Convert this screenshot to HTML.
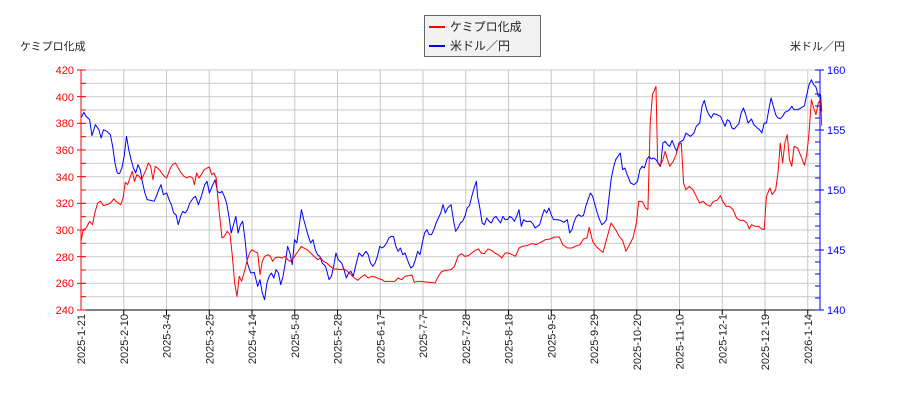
<!DOCTYPE html>
<html><head><meta charset="utf-8"><style>
html,body{margin:0;padding:0;background:#fff;overflow:hidden;}
svg{display:block;font-family:"Liberation Sans","Noto Sans CJK JP",sans-serif;}
</style></head><body>
<svg width="900" height="400" viewBox="0 0 900 400" xmlns="http://www.w3.org/2000/svg">
<rect width="900" height="400" fill="#fff"/>
<g stroke="#c8c8c8" stroke-width="1">
<line x1="81" y1="83.3" x2="820" y2="83.3"/><line x1="81" y1="96.7" x2="820" y2="96.7"/>
<line x1="81" y1="110" x2="820" y2="110"/><line x1="81" y1="123.3" x2="820" y2="123.3"/>
<line x1="81" y1="136.7" x2="820" y2="136.7"/><line x1="81" y1="150" x2="820" y2="150"/>
<line x1="81" y1="163.3" x2="820" y2="163.3"/><line x1="81" y1="176.7" x2="820" y2="176.7"/>
<line x1="81" y1="190" x2="820" y2="190"/><line x1="81" y1="203.3" x2="820" y2="203.3"/>
<line x1="81" y1="216.7" x2="820" y2="216.7"/><line x1="81" y1="230" x2="820" y2="230"/>
<line x1="81" y1="243.3" x2="820" y2="243.3"/><line x1="81" y1="256.7" x2="820" y2="256.7"/>
<line x1="81" y1="270" x2="820" y2="270"/><line x1="81" y1="283.3" x2="820" y2="283.3"/>
<line x1="81" y1="296.7" x2="820" y2="296.7"/><line x1="81" y1="70" x2="820" y2="70"/>
</g>
<g stroke="#c8c8c8" stroke-width="1" id="vg"></g>
<g transform="translate(81,70) scale(0.57554,0.33333) translate(-141,-211)" fill="none" stroke-width="1" stroke-linejoin="round">
<polyline vector-effect="non-scaling-stroke" stroke="#0000ff" points="141,355 146,338 150,350 156,360 160,408 166,375 172,390 176,415 180,390 186,395 192,405 196,440 200,490 204,520 208,522 212,505 216,470 220,410 224,450 228,480 232,505 236,520 240,495 244,510 248,550 252,580 256,600 262,602 268,605 272,590 276,570 280,555 284,585 290,580 294,600 298,615 302,640 306,645 310,675 314,650 318,635 322,640 326,630 330,610 336,595 340,590 345,615 350,590 356,555 360,545 364,580 370,555 374,540 378,575 382,580 386,575 390,590 394,610 398,650 402,700 406,675 410,650 414,700 418,675 422,665 426,720 430,790 436,820 442,818 448,860 452,840 456,880 460,900 464,850 468,830 472,820 476,835 480,810 484,820 488,855 492,830 496,790 500,740 504,760 508,795 512,720 516,730 520,680 524,630 528,660 532,685 536,710 540,730 544,720 548,750 552,765 556,770 560,790 566,800 572,840 576,830 580,800 584,760 588,780 594,790 598,810 602,835 606,820 610,815 614,830 618,800 624,760 630,770 636,755 640,765 644,790 648,800 652,790 656,770 660,740 664,745 668,740 672,730 676,715 680,710 684,710 688,740 692,755 696,745 700,765 704,760 708,780 714,805 718,800 722,780 726,755 730,765 734,730 738,700 742,690 746,705 750,705 754,690 758,670 762,655 766,640 770,615 774,640 778,625 784,615 788,660 792,695 796,685 800,670 804,665 808,650 812,625 816,618 820,590 824,565 828,545 830,590 834,625 838,670 842,675 846,655 850,665 854,670 858,655 862,650 866,660 870,670 874,650 878,660 882,660 886,650 890,655 894,665 898,650 902,630 906,680 910,660 914,665 918,665 922,665 926,672 930,685 934,680 938,675 942,650 946,630 950,640 954,625 958,645 962,660 968,660 974,662 980,668 986,660 990,700 994,690 998,665 1002,650 1006,645 1010,650 1014,648 1018,620 1022,600 1026,580 1030,590 1034,615 1038,640 1042,660 1046,675 1050,670 1054,660 1058,600 1062,540 1066,505 1070,480 1074,470 1078,460 1082,510 1086,505 1090,525 1096,550 1102,555 1108,545 1112,510 1116,500 1120,505 1124,480 1128,470 1132,478 1136,475 1140,480 1144,490 1148,500 1152,430 1156,425 1160,435 1164,440 1168,422 1172,440 1176,455 1180,430 1184,425 1188,420 1192,400 1196,405 1200,410 1206,400 1210,380 1216,370 1220,320 1224,302 1228,330 1232,345 1236,355 1240,342 1246,345 1252,350 1256,365 1260,380 1264,360 1268,365 1272,385 1276,388 1280,380 1284,372 1288,340 1292,325 1296,345 1300,370 1306,358 1310,375 1316,385 1320,390 1324,400 1328,370 1332,370 1336,330 1340,295 1344,320 1348,345 1352,355 1356,357 1360,350 1364,338 1368,335 1372,330 1376,320 1380,330 1386,330 1392,325 1398,318 1402,285 1406,255 1410,240 1414,255 1418,262 1422,290 1426,285 1428,335"/>
<polyline vector-effect="non-scaling-stroke" stroke="#ff0000" points="141,725 145,690 150,685 156,665 161,675 165,640 170,610 175,605 180,618 186,615 192,610 198,598 204,608 210,615 214,595 218,548 222,555 226,535 230,515 234,545 238,525 242,530 246,540 250,525 254,510 258,490 262,500 266,540 270,500 274,505 278,512 282,522 286,530 290,535 295,510 300,495 305,490 310,505 315,520 320,530 325,535 330,530 335,535 338,555 342,520 346,535 350,525 355,510 360,505 364,502 368,525 372,520 376,535 378,580 382,650 386,715 390,710 395,695 400,705 404,770 408,850 412,890 416,830 420,845 425,815 430,780 434,760 438,750 442,755 448,760 452,825 456,785 460,770 466,765 470,770 474,785 478,775 484,772 490,775 496,770 500,780 504,785 508,780 512,770 516,760 520,750 524,740 528,745 534,750 540,760 546,770 552,780 558,775 562,785 568,790 574,800 580,808 586,808 592,810 598,808 604,815 610,825 616,835 622,842 628,832 634,825 640,835 646,830 652,832 658,837 664,840 668,845 676,845 686,845 692,835 698,840 704,830 710,828 716,826 720,848 726,845 732,845 740,847 748,848 756,850 762,830 768,815 776,812 784,810 790,800 796,770 802,762 808,770 814,768 820,760 826,752 832,748 836,760 842,762 848,748 854,752 860,760 866,765 872,775 878,760 884,760 890,765 896,770 902,745 908,740 916,738 924,732 932,735 940,728 948,720 956,718 964,712 972,712 978,735 986,745 994,745 1000,740 1008,735 1014,718 1020,715 1024,683 1030,725 1036,740 1042,750 1048,758 1054,720 1062,670 1070,690 1076,710 1082,722 1088,755 1094,735 1100,715 1106,670 1110,605 1116,605 1122,625 1126,630 1130,370 1134,285 1140,260 1143,490 1147,500 1152,480 1156,455 1160,480 1164,500 1170,485 1175,465 1180,435 1184,430 1188,550 1192,570 1198,560 1204,570 1210,590 1216,610 1222,605 1228,615 1234,620 1240,605 1246,602 1252,588 1256,605 1262,620 1268,620 1274,630 1280,655 1286,662 1292,662 1298,670 1302,688 1306,675 1312,680 1318,680 1324,688 1328,690 1332,590 1338,565 1342,585 1348,570 1352,520 1356,430 1360,490 1364,430 1368,405 1372,480 1376,500 1380,440 1386,445 1392,470 1398,497 1402,465 1406,400 1410,300 1414,325 1418,345 1422,310 1426,300 1428,378"/>
</g>
<line x1="81" y1="70" x2="81" y2="310" stroke="#ff0000"/>
<line x1="820" y1="70" x2="820" y2="310" stroke="#0000ff"/>
<line x1="81" y1="310" x2="820" y2="310" stroke="#000"/>
<g stroke="#ff0000" id="lt"></g>
<g stroke="#0000ff" id="rt"></g>
<g font-size="11" fill="#ff0000" text-anchor="end">
<text x="74" y="74">420</text><text x="74" y="101">400</text><text x="74" y="127">380</text>
<text x="74" y="154">360</text><text x="74" y="181">340</text><text x="74" y="207">320</text>
<text x="74" y="234">300</text><text x="74" y="261">280</text><text x="74" y="287">260</text><text x="74" y="314">240</text>
</g>
<g font-size="11" fill="#0000ff">
<text x="827" y="74">160</text><text x="827" y="134">155</text><text x="827" y="194">150</text>
<text x="827" y="254">145</text><text x="827" y="314">140</text>
</g>
<g font-size="11" fill="#222" id="xl"></g>
<text x="20" y="50" font-size="11" fill="#222">ケミプロ化成</text>
<text x="790" y="50" font-size="11" fill="#222">米ドル／円</text>
<rect x="424.5" y="15.5" width="116" height="41" fill="#f2f2f2" stroke="#666"/>
<line x1="429" y1="27" x2="445" y2="27" stroke="#ff0000" stroke-width="2"/>
<line x1="429" y1="46" x2="445" y2="46" stroke="#0000ff" stroke-width="2"/>
<text x="450" y="31" font-size="12" fill="#222">ケミプロ化成</text>
<text x="450" y="50" font-size="12" fill="#222">米ドル／円</text>
<script>
var ns="http://www.w3.org/2000/svg";
var L=["2025-1-21","2025-2-10","2025-3-4","2025-3-25","2025-4-14","2025-5-8","2025-5-28","2025-6-17","2025-7-7","2025-7-28","2025-8-18","2025-9-5","2025-9-29","2025-10-20","2025-11-10","2025-12-1","2025-12-19","2026-1-14"];
var vg=document.getElementById("vg"),xl=document.getElementById("xl");
L.forEach(function(s,i){var x=81+42.75*i;
 if(i>0){var l=document.createElementNS(ns,"line");l.setAttribute("x1",x);l.setAttribute("x2",x);l.setAttribute("y1",70);l.setAttribute("y2",310);vg.appendChild(l);
 var t=document.createElementNS(ns,"line");t.setAttribute("x1",x);t.setAttribute("x2",x);t.setAttribute("y1",310);t.setAttribute("y2",315);t.setAttribute("stroke","#000");vg.parentNode.appendChild(t);}
 var tx=document.createElementNS(ns,"text");tx.setAttribute("transform","translate("+(x+4)+",314) rotate(-90)");tx.setAttribute("text-anchor","end");tx.textContent=s;xl.appendChild(tx);});
var lt=document.getElementById("lt");
for(var v=240;v<=420;v+=10){var y=310-(v-240)*240/180;var l=document.createElementNS(ns,"line");l.setAttribute("x1",v%20?81:77);l.setAttribute("x2",86);l.setAttribute("y1",y);l.setAttribute("y2",y);lt.appendChild(l);}
var rt=document.getElementById("rt");
for(var v=140;v<=160;v++){var y=310-(v-140)*12;var l=document.createElementNS(ns,"line");l.setAttribute("x1",815);l.setAttribute("x2",v%5?820:824);l.setAttribute("y1",y);l.setAttribute("y2",y);rt.appendChild(l);}
</script>
</svg>
</body></html>
